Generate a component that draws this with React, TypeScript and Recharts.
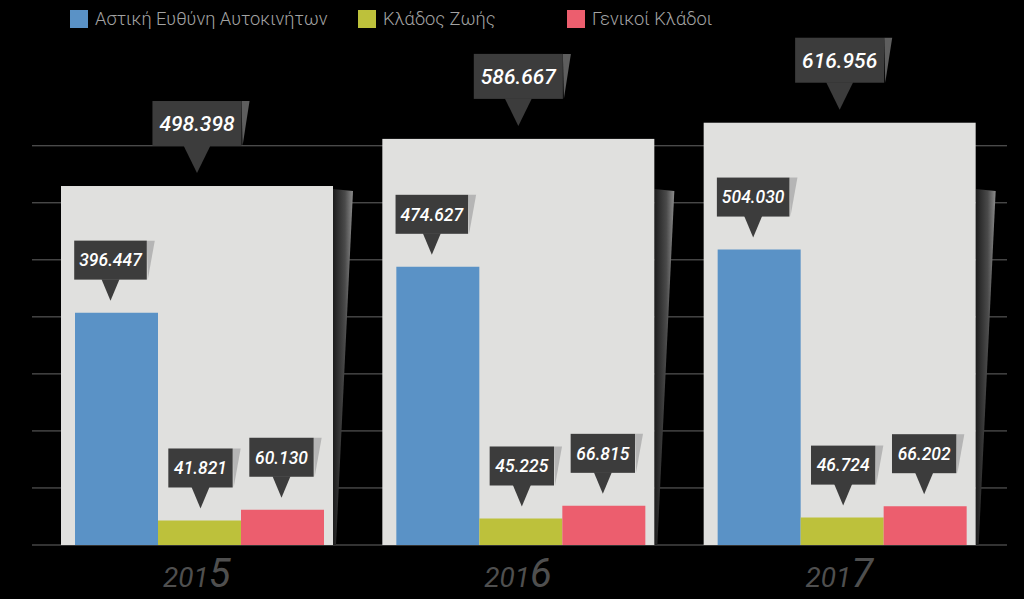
import React from 'react';
import { BarChart, Bar, XAxis, YAxis, CartesianGrid, Legend, LabelList } from 'recharts';

const years = ['2015', '2016', '2017'];
const civilLiability = [396.447, 474.627, 504.03];
const lifeBranch = [41.821, 45.225, 46.724];
const generalBranches = [60.13, 66.815, 66.202];
const totals = [498.398, 586.667, 616.956];

const seriesNames = ['Αστική Ευθύνη Αυτοκινήτων', 'Κλάδος Ζωής', 'Γενικοί Κλάδοι'];
const seriesKeys = ['civil', 'life', 'general'];
const seriesColors = ['#5a92c6', '#bdc13b', '#ec5e6e'];
const calloutShift = [-6, 1, -1];

const data = years.map((year, i) => ({
  year,
  civil: civilLiability[i],
  life: lifeBranch[i],
  general: generalBranches[i],
  total: totals[i],
}));

const W = 1024;
const H = 599;
const MARGIN = { top: 100, right: 17, bottom: 0, left: 32 };
const VAL_MAX = 759.2;
const GRID_STEP = 97.3;
const gridTicks = [0, 1, 2, 3, 4, 5, 6, 7].map((i) => +(i * GRID_STEP).toFixed(1));
const TOT_MIN = -174;
const TOT_MAX = 659.5;
const LEGEND_X = [70, 358, 567];
const FONT = 'Roboto, "DejaVu Sans", sans-serif';

type CalloutProps = {
  cx: number;
  tipY: number;
  text: string;
  fontSize: number;
  boxH: number;
  ptrH: number;
  ptrW: number;
  pad: number;
  shadow: string;
};

function Callout({ cx, tipY, text, fontSize, boxH, ptrH, ptrW, pad, shadow }: CalloutProps) {
  const boxW = text.length * fontSize * 0.47 + pad;
  const bx = cx - boxW / 2;
  const by = tipY - ptrH - boxH;
  const r = bx + boxW;
  return (
    <g>
      <polygon points={`${r},${by} ${r + 8},${by} ${r + 1},${by + boxH}`} fill={shadow} />
      <rect x={bx} y={by} width={boxW} height={boxH} fill="#3c3c3c" />
      <polygon points={`${cx - ptrW / 2},${by + boxH - 0.5} ${cx + ptrW / 2},${by + boxH - 0.5} ${cx},${tipY}`} fill="#3c3c3c" />
      <text
        x={cx}
        y={by + boxH / 2}
        dy="0.36em"
        textAnchor="middle"
        fill="#ffffff"
        fontFamily={FONT}
        fontStyle="italic"
        fontWeight={500}
        fontSize={fontSize}
      >
        {text}
      </text>
    </g>
  );
}

const GrayBox = (props: any) => {
  const { x, y, width, height, background, index } = props;
  if (width == null || height == null) return null;
  const bottom = y + height;
  const plotH = background && background.height ? background.height : 445;
  const sTop = bottom - plotH * 0.8;
  const r = x + width;
  const gid = `boxShadow-${index}`;
  return (
    <g>
      <defs>
        <linearGradient id={gid} x1="0" y1="0" x2="1" y2="0">
          <stop offset="0" stopColor="#1c1c1c" />
          <stop offset="0.6" stopColor="#4a4a4a" />
          <stop offset="1" stopColor="#8c8c8c" />
        </linearGradient>
      </defs>
      <polygon points={`${r},${sTop} ${r + 20},${sTop + 2} ${r + 3},${bottom} ${r},${bottom}`} fill={`url(#${gid})`} />
      <rect x={x} y={y} width={width} height={height} fill="#e0e0de" />
    </g>
  );
};

const totalLabel = (p: any) => {
  const vb = p.viewBox ?? p;
  const idx = p.index;
  let v: number | undefined = idx != null ? totals[idx] : undefined;
  if (v == null && Array.isArray(p.value)) v = p.value[1];
  if (v == null) return null;
  return (
    <Callout
      cx={vb.x + vb.width / 2}
      tipY={vb.y - 13}
      text={v.toFixed(3)}
      fontSize={21}
      boxH={45}
      ptrH={27}
      ptrW={27}
      pad={20}
      shadow="#5e5e5e"
    />
  );
};

const seriesLabel = (si: number) => (p: any) => {
  const vb = p.viewBox ?? p;
  const v = Number(p.value);
  if (!isFinite(v)) return null;
  return (
    <Callout
      cx={vb.x + vb.width / 2 + calloutShift[si]}
      tipY={vb.y - 12}
      text={v.toFixed(3)}
      fontSize={17.5}
      boxH={39}
      ptrH={21}
      ptrW={18}
      pad={15}
      shadow="#b5b5b5"
    />
  );
};

const YearTick = (p: any) => {
  const { x, y, payload } = p;
  const v = String(payload.value);
  return (
    <text x={x} y={y + 42} textAnchor="middle" fill="#4f4f4f" fontFamily={FONT} fontStyle="italic">
      <tspan fontSize={28}>{v.slice(0, 3)}</tspan>
      <tspan fontSize={40}>{v.slice(3)}</tspan>
    </text>
  );
};

const gridLine = (p: any) => {
  const { x1, y1, x2, y2, key } = p;
  if (y1 < MARGIN.top + 1) return <g key={key} />;
  return <line key={key} x1={x1} y1={y1} x2={x2} y2={y2} stroke="#666" strokeWidth={1} />;
};

const renderLegend = () => (
  <div style={{ position: 'relative', width: W, height: 36 }}>
    {seriesNames.map((n, i) => (
      <div
        key={n}
        style={{ position: 'absolute', left: LEGEND_X[i], top: 9, display: 'flex', alignItems: 'center', gap: 7 }}
      >
        <span style={{ width: 18, height: 18, background: seriesColors[i], display: 'inline-block' }} />
        <span style={{ color: '#a3a3a3', fontFamily: FONT, fontWeight: 300, fontSize: 18.3, lineHeight: '20px' }}>{n}</span>
      </div>
    ))}
  </div>
);

export default function App() {
  return (
    <div style={{ position: 'fixed', left: 0, top: 0, width: W, height: H, background: '#000' }}>
      <BarChart width={W} height={H} data={data} margin={MARGIN} barGap={0}>
        <XAxis
          xAxisId="bg"
          dataKey="year"
          padding={{ left: 4, right: 7 }}
          axisLine={false}
          tickLine={false}
          tickSize={0}
          tickMargin={0}
          height={54}
          interval={0}
          tick={<YearTick />}
        />
        <XAxis xAxisId="main" dataKey="year" hide padding={{ left: 7, right: 4 }} />
        <YAxis yAxisId="val" hide type="number" domain={[0, VAL_MAX]} ticks={gridTicks} allowDataOverflow />
        <YAxis yAxisId="tot" hide type="number" domain={[TOT_MIN, TOT_MAX]} allowDataOverflow />
        <CartesianGrid yAxisId="val" xAxisId="main" vertical={false} horizontal={gridLine} />
        <Legend
          layout="horizontal"
          verticalAlign="middle"
          align="center"
          wrapperStyle={{ top: 0, left: 0, width: W, height: 36 }}
          content={renderLegend}
        />
        <Bar
          xAxisId="bg"
          yAxisId="tot"
          dataKey={(d: any) => [TOT_MIN, d.total]}
          name="Σύνολο"
          barSize={272}
          fill="#e0e0de"
          shape={<GrayBox />}
          isAnimationActive={false}
        >
          <LabelList content={totalLabel} />
        </Bar>
        {seriesKeys.map((k, i) => (
          <Bar
            key={k}
            xAxisId="main"
            yAxisId="val"
            dataKey={k}
            name={seriesNames[i]}
            fill={seriesColors[i]}
            barSize={83}
            isAnimationActive={false}
          >
            <LabelList dataKey={k} content={seriesLabel(i)} />
          </Bar>
        ))}
      </BarChart>
    </div>
  );
}
